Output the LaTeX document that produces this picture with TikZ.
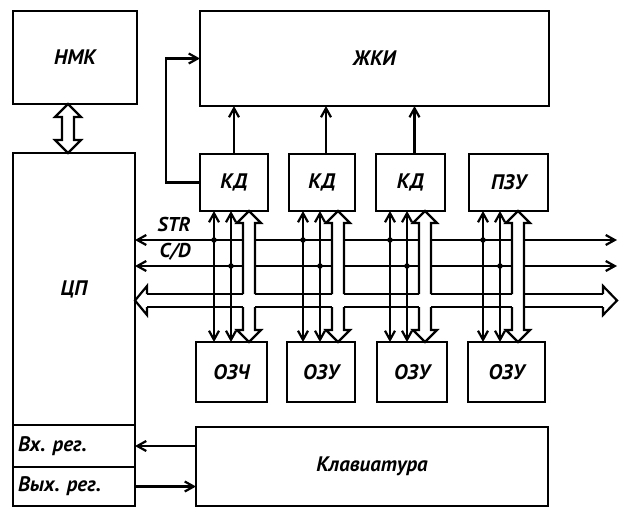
\documentclass[tikz,border=0pt]{standalone}
\usepackage{fontspec}
\setmainfont{PT Sans}
\usetikzlibrary{arrows.meta}
\tikzset{
  blk/.style={draw, line width=2.2pt, inner sep=0pt, outer sep=0pt, anchor=north west,
    font=\bfseries\itshape\fontsize{21}{24}\selectfont},
  reg/.style={blk, text width=112pt, align=flush left, inner xsep=5pt},
  lbl/.style={inner sep=0pt, font=\bfseries\itshape\fontsize{20}{24}\selectfont},
  dot/.style={circle, fill, inner sep=0pt, minimum size=5.5pt}
}
\begin{document}
\begin{tikzpicture}[x=1pt,y=-1pt,line width=2.2pt,
  >={Straight Barb[length=9pt,width=10pt]}]
  \useasboundingbox (0,0) rectangle (619,507);
  % blocks
  \node[blk, minimum width=124, minimum height=93] (nmk) at (13,11) {НМК};
  \node[blk, minimum width=349, minimum height=95] (zhki) at (200,11) {ЖКИ};
  \node[blk, minimum width=122, minimum height=272] (cpu) at (13,153) {ЦП};
  \node[reg, minimum width=122, minimum height=42] (vxreg) at (cpu.south west) {Вх. рег.};
  \node[reg, minimum width=122, minimum height=39] (vyxreg) at (vxreg.south west) {Вых. рег.};
  \node[blk, minimum width=352, minimum height=79] (kbd) at (196,427) {Клавиатура};
  \foreach \n/\L/\w/\t in {1/200/68/КД,2/289/66/КД,3/376/69/КД,4/469/79/ПЗУ}
    \node[blk, minimum width=\w, minimum height=57] (kd\n) at (\L,154) {\t};
  \foreach \n/\L/\w/\t in {1/196/71/ОЗЧ,2/287/68/ОЗУ,3/377/70/ОЗУ,4/468/77/ОЗУ}
    \node[blk, minimum width=\w, minimum height=60] (ozu\n) at (\L,342) {\t};
  % NMK <=> CPU
  \draw (68,104) -- ++(-13,13) -- ++(7,0) -- ++(0,23) -- ++(-7,0) -- ++(13,13)
    -- ++(13,-13) -- ++(-7,0) -- ++(0,-23) -- ++(7,0) -- cycle;
  % KD -> ZhKI
  \foreach \n/\dx in {1/0,2/4,3/4}
    \draw[->] ([xshift=\dx]kd\n.north) -- ([xshift=\dx]kd\n.north |- zhki.south);
  \draw[->] (kd1.west) -- ++(-34,0) |- (zhki.west);
  % STR, C/D
  \coordinate (strR) at (617,240);
  \coordinate (cdR) at (617,266);
  \draw[<->] (strR -| cpu.east) -- (strR);
  \draw[<->] (cdR -| cpu.east) -- (cdR);
  \node[lbl] (str) at (174,224) {STR};
  \node[lbl] (cd) at (175,252) {C/D};
  \foreach \n in {1,...,4}{
    \draw[<->] ([xshift=14]kd\n.south west) -- ([xshift=14]kd\n.south west |- ozu\n.north);
    \draw[<->] ([xshift=31]kd\n.south west) -- ([xshift=31]kd\n.south west |- ozu\n.north);
    \node[dot] (s\n) at ([xshift=14]kd\n.south west |- strR) {};
    \node[dot] (c\n) at ([xshift=31]kd\n.south west |- cdR) {};
  }
  % wide verticals
  \foreach \cx in {249,338,425}{
    \fill[white] (\cx-6,223) rectangle (\cx+6,294);
    \draw (\cx-6,294) -- (\cx-6,223) -- (\cx-12,223) -- (\cx,211) -- (\cx+12,223) -- (\cx+6,223) -- (\cx+6,294);
    \draw (\cx-6,307) -- (\cx-6,330) -- (\cx-12,330) -- (\cx,342) -- (\cx+12,330) -- (\cx+6,330) -- (\cx+6,307);
  }
  \fill[white] (512,223) rectangle (524,294);
  \draw (512,294) -- (512,223) -- (506,223) -- (518,211) -- (530,223) -- (524,223) -- (524,330)
    -- (530,330) -- (518,342) -- (506,330) -- (512,330) -- (512,307);
  % wide bus
  \draw (147,294) -- (147,286) -- (135,300.5) -- (147,315) -- (147,307);
  \draw (603,294) -- (603,286) -- (617,300.5) -- (603,315) -- (603,307);
  \foreach \y in {294,307}{
    \draw (147,\y) -- (243,\y);
    \draw (255,\y) -- (332,\y);
    \draw (344,\y) -- (419,\y);
    \draw (431,\y) -- (512,\y);
    \draw (524,\y) -- (603,\y);
  }
  % keyboard
  \draw[->] (kbd.west |- vxreg) -- (vxreg.east);
  \draw[->] (vyxreg.east) -- (kbd.west |- vyxreg);
\end{tikzpicture}
\end{document}
